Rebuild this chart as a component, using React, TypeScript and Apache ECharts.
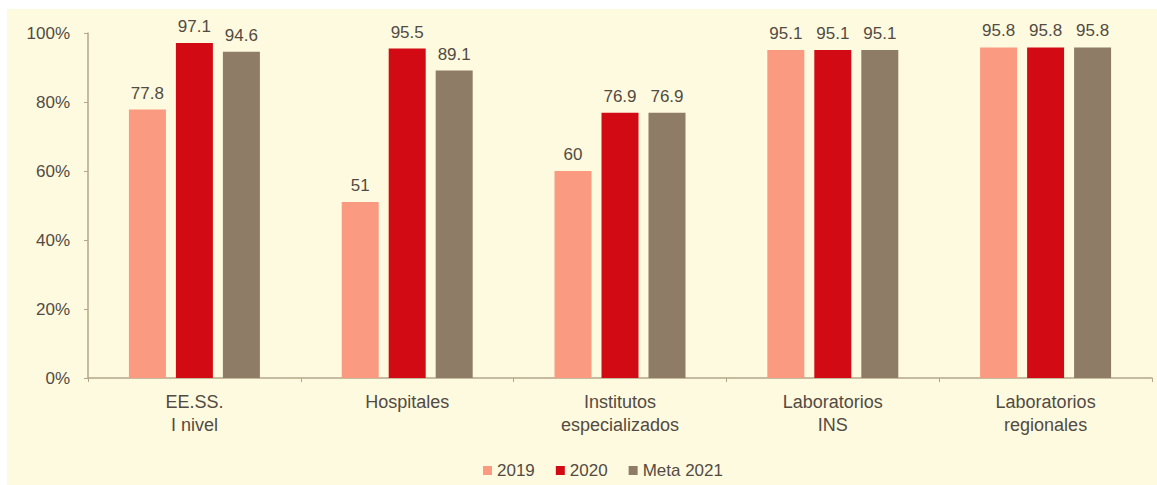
import React, { useEffect, useRef } from "react";
import * as echarts from "echarts";

const categories = ["EE.SS.\nI nivel", "Hospitales", "Institutos\nespecializados", "Laboratorios\nINS", "Laboratorios\nregionales"];
const seriesNames = ["2019", "2020", "Meta 2021"];
const values2019 = [77.8, 51, 60, 95.1, 95.8];
const values2020 = [97.1, 95.5, 76.9, 95.1, 95.8];
const valuesMeta2021 = [94.6, 89.1, 76.9, 95.1, 95.8];
const colors = ["#FA9A80", "#D20A14", "#8E7C66"];

const TEXT = "#524B43";
const FONT = "'Liberation Sans', Arial, sans-serif";

export default function App() {
  const ref = useRef<HTMLDivElement>(null);
  useEffect(() => {
    if (!ref.current) return;
    const chart = echarts.init(ref.current, undefined, { renderer: "svg" });
    const data = [values2019, values2020, valuesMeta2021];
    chart.setOption({
      animation: false,
      backgroundColor: "#FEFADF",
      textStyle: { fontFamily: FONT },
      grid: { left: 81, right: 5, top: 24, bottom: 107 },
      legend: {
        data: seriesNames,
        top: 448,
        left: 471,
        itemWidth: 9,
        itemHeight: 9,
        itemGap: 21,
        icon: "rect",
        textStyle: { color: TEXT, fontSize: 17, fontFamily: FONT },
      },
      xAxis: {
        type: "category",
        data: categories,
        axisLine: { lineStyle: { color: "#B5A68A", width: 1.5 } },
        axisTick: { show: true, length: 4, lineStyle: { color: "#B5A68A" } },
        axisLabel: { color: TEXT, fontSize: 18, lineHeight: 23, margin: 12, fontFamily: FONT },
      },
      yAxis: {
        type: "value",
        min: 0,
        max: 100,
        interval: 20,
        axisLine: { show: true, lineStyle: { color: "#B5A68A", width: 1.5 } },
        axisTick: { show: true, length: 4, lineStyle: { color: "#B5A68A" } },
        splitLine: { show: false },
        axisLabel: { color: TEXT, fontSize: 17, margin: 18, formatter: "{value}%", fontFamily: FONT },
      },
      series: seriesNames.map((name, i) => ({
        name,
        type: "bar",
        data: data[i],
        barWidth: 37,
        barGap: "27%",
        itemStyle: { color: colors[i] },
        label: {
          show: true,
          position: "top",
          distance: 8,
          color: TEXT,
          fontSize: 17,
          fontFamily: FONT,
        },
      })),
    });
    return () => chart.dispose();
  }, []);
  return (
    <div style={{ position: "fixed", left: 0, top: 0, width: 1157, height: 485, background: "#fff" }}>
      <div ref={ref} style={{ position: "absolute", left: 7, top: 9, width: 1150, height: 476 }} />
    </div>
  );
}
